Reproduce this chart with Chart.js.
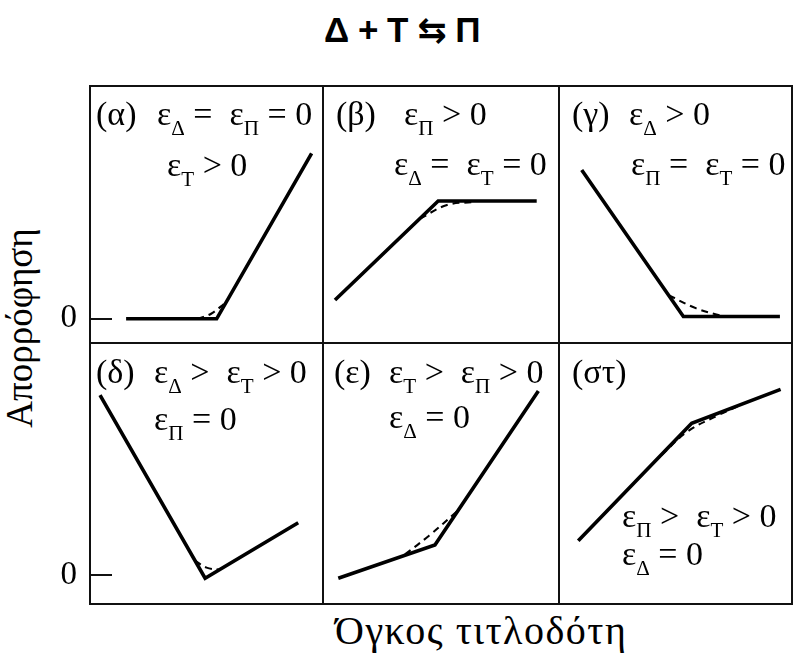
<!DOCTYPE html>
<html lang="el">
<head>
<meta charset="utf-8">
<title>Δ + Τ ⇆ Π</title>
<script src="https://cdn.jsdelivr.net/npm/chart.js@4"></script>
<style>
  html, body { margin: 0; padding: 0; background: #fff; }
  body { width: 793px; height: 654px; position: relative; overflow: hidden; font-family: "Liberation Serif", serif; color: #000; }
  canvas { position: absolute; }
  .rule { position: absolute; background: #111; }
  #title { position: absolute; left: 324px; top: 12px; font: bold 35px "Liberation Sans", "DejaVu Sans", sans-serif; letter-spacing: -0.5px; line-height: 1; white-space: nowrap; }
  #ytitle { position: absolute; left: 19px; top: 328px; font-size: 37px; line-height: 1; white-space: nowrap; transform: translate(-50%, -50%) rotate(-90deg); }
  #xtitle { position: absolute; left: 335px; top: 611px; font-size: 40px; letter-spacing: 1.5px; line-height: 1; white-space: nowrap; }
</style>
</head>
<body>
<div id="title">Δ + Τ ⇆ Π</div>
<div id="ytitle">Απορρόφηση</div>
<div id="xtitle">Όγκος τιτλοδότη</div>

<script>
// Titrant volume (x) and absorbance (y) for each photometric titration case.
// Solid lines: ideal straight-line segments; dashed: the rounded real curve at the end point.
const alphaX = [1.52, 5.44, 9.55];
const alphaY = [0, 0, 7.14];
const alphaDashX = [4.6, 5.2, 5.85];
const alphaDashY = [0, 0.22, 0.72];

const betaX = [0.47, 4.88, 9.09];
const betaY = [0.81, 5.08, 5.08];
const betaDashX = [4.10, 5.26, 6.37];
const betaDashY = [4.32, 4.91, 5.04];

const gammaX = [0.94, 5.34, 9.52];
const gammaY = [6.42, 0.1, 0.1];
const gammaDashX = [4.7, 5.9, 6.95];
const gammaDashY = [1.02, 0.45, 0.14];

const deltaX = [0.39, 4.94, 8.97];
const deltaY = [7.79, -0.13, 2.27];
const deltaDashX = [4.5, 5.0, 5.55];
const deltaDashY = [0.63, 0.33, 0.24];

const epsilonX = [0.61, 4.74, 9.16];
const epsilonY = [-0.13, 1.31, 7.97];
const epsilonDashX = [3.46, 4.5, 5.67];
const epsilonDashY = [0.9, 1.72, 2.75];

const stX = [0.79, 5.70, 9.55];
const stY = [1.49, 6.57, 8.04];
const stDashX = [4.4, 5.5, 6.8, 7.87];
const stDashY = [5.2, 6.2, 6.9, 7.38];

// Panel captions; "_{…}" marks a subscript.
const alphaNotes = ['(α)', 'ε_{Δ} =  ε_{Π} = 0', 'ε_{Τ} > 0'];
const betaNotes = ['(β)', 'ε_{Π} > 0', 'ε_{Δ} =  ε_{Τ} = 0'];
const gammaNotes = ['(γ)', 'ε_{Δ} > 0', 'ε_{Π} =  ε_{Τ} = 0'];
const deltaNotes = ['(δ)', 'ε_{Δ} >  ε_{Τ} > 0', 'ε_{Π} = 0'];
const epsilonNotes = ['(ε)', 'ε_{Τ} >  ε_{Π} > 0', 'ε_{Δ} = 0'];
const stNotes = ['(στ)', 'ε_{Π} >  ε_{Τ} > 0', 'ε_{Δ} = 0'];

// Absorbance tick shown on the left column.
const absTicks = [0];

// ---- layout (page pixels) ----
const colLeft = [91, 324, 560];
const colWidth = [231, 234, 231];
const rowTop = [87, 344];
const rowHeight = [255, 259];
const yRange = [[-1, 10], [-1.2, 10]];
const axisGap = 21;            // room the absorbance ticks take inside the left panels
const fontMain = 34;

// caption positions: [left, baseline] in page pixels
const notePos = [
  [[96, 125], [157, 125], [167, 176]],
  [[336, 125], [404, 125], [394, 175]],
  [[572, 125], [629, 125], [631, 175]],
  [[96, 383], [154, 383], [154, 430]],
  [[334, 383], [389, 383], [389, 428]],
  [[572, 383], [622, 527], [622, 565]]
];

const panels = [
  { xs: alphaX, ys: alphaY, dx: alphaDashX, dy: alphaDashY, notes: alphaNotes },
  { xs: betaX, ys: betaY, dx: betaDashX, dy: betaDashY, notes: betaNotes },
  { xs: gammaX, ys: gammaY, dx: gammaDashX, dy: gammaDashY, notes: gammaNotes },
  { xs: deltaX, ys: deltaY, dx: deltaDashX, dy: deltaDashY, notes: deltaNotes },
  { xs: epsilonX, ys: epsilonY, dx: epsilonDashX, dy: epsilonDashY, notes: epsilonNotes },
  { xs: stX, ys: stY, dx: stDashX, dy: stDashY, notes: stNotes }
];

const toPoints = (xs, ys) => xs.map((x, i) => ({ x, y: ys[i] }));

function drawRich(ctx, str, x, y, size) {
  const parts = str.split(/(_\{[^}]*\})/);
  for (const p of parts) {
    if (!p) continue;
    if (p.startsWith('_{')) {
      const t = p.slice(2, -1);
      ctx.font = (size * 0.62) + 'px "Liberation Serif"';
      ctx.fillText(t, x, y + size * 0.3);
      x += ctx.measureText(t).width;
    } else {
      ctx.font = size + 'px "Liberation Serif"';
      ctx.fillText(p, x, y);
      x += ctx.measureText(p).width;
    }
  }
}

const captionPlugin = {
  id: 'captions',
  afterDraw(chart, args, opts) {
    const ctx = chart.ctx;
    ctx.save();
    ctx.fillStyle = '#000';
    ctx.textBaseline = 'alphabetic';
    ctx.textAlign = 'left';
    opts.lines.forEach((s, i) => {
      const [px, py] = opts.pos[i];
      drawRich(ctx, s, px - opts.originX, py - opts.originY, fontMain);
    });
    ctx.restore();
  }
};

panels.forEach((p, k) => {
  const row = Math.floor(k / 3), col = k % 3;
  const leftCol = col === 0;
  const canvas = document.createElement('canvas');
  const cx = leftCol ? 0 : colLeft[col];
  const cy = rowTop[row];
  const w = leftCol ? colLeft[0] + colWidth[0] : colWidth[col];
  const h = rowHeight[row];
  canvas.width = w; canvas.height = h;
  canvas.style.left = cx + 'px'; canvas.style.top = cy + 'px';
  document.body.appendChild(canvas);

  const yScale = {
    type: 'linear', min: yRange[row][0], max: yRange[row][1], display: leftCol
  };
  if (leftCol) {
    Object.assign(yScale, {
      afterBuildTicks: s => { s.ticks = absTicks.map(v => ({ value: v })); },
      ticks: { color: '#000', padding: 14, font: { family: 'Liberation Serif', size: 33 } },
      grid: { drawOnChartArea: false, drawTicks: true, tickLength: axisGap, color: '#111', lineWidth: 2 },
      border: { display: false },
      afterFit: s => { s.width = colLeft[0] + axisGap; s.paddingTop = 0; s.paddingBottom = 0; }
    });
  }

  new Chart(canvas, {
    type: 'scatter',
    data: {
      datasets: [
        {
          data: toPoints(p.xs, p.ys), showLine: true, borderColor: '#000', borderWidth: 3.6,
          pointRadius: 0, tension: 0, borderJoinStyle: 'miter', clip: false
        },
        {
          data: toPoints(p.dx, p.dy), showLine: true, borderColor: '#000', borderWidth: 2.1,
          borderDash: [7, 5], pointRadius: 0, tension: 0.4, clip: false
        }
      ]
    },
    options: {
      responsive: false, animation: false, devicePixelRatio: 1,
      layout: { padding: 0 },
      scales: {
        x: { type: 'linear', min: leftCol ? 10 * axisGap / colWidth[0] : 0, max: 10, display: false },
        y: yScale
      },
      plugins: {
        legend: { display: false }, tooltip: { enabled: false },
        captions: { lines: p.notes, pos: notePos[k], originX: cx, originY: cy }
      }
    },
    plugins: [captionPlugin]
  });
});

// Frame of the 3×2 panel grid
[[89, 85, 2, 520], [322, 85, 2, 520], [558, 85, 2, 520], [791, 85, 2, 520],
 [89, 85, 704, 2], [89, 342, 704, 2], [89, 603, 704, 2]].forEach(([l, t, w, h]) => {
  const d = document.createElement('div');
  d.className = 'rule';
  d.style.cssText = `left:${l}px;top:${t}px;width:${w}px;height:${h}px`;
  document.body.appendChild(d);
});
</script>
</body>
</html>
